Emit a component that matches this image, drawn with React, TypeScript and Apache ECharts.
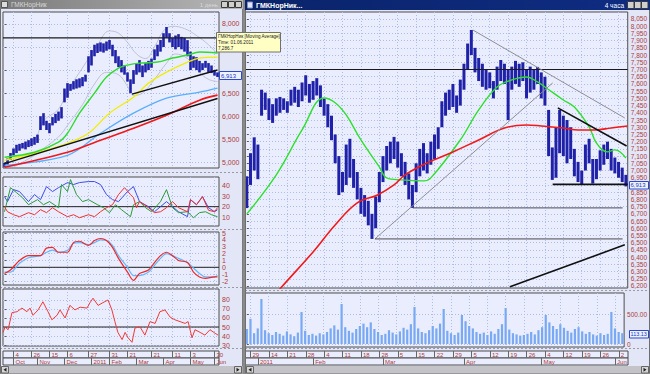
import React, { useEffect, useRef } from 'react';
import * as echarts from 'echarts';

// ================= LEFT WINDOW (daily, Sep 2010 - Jun 2011), one bar per ~2 sessions =================
const leftLo = [
  4900, 4950, 5050, 5150, 5200, 5250, 5300, 5280, 5330, 5350,
  5380, 5420, 5700, 5800, 5700, 5630, 5800, 5850, 5900, 5950,
  6300, 6400, 6550, 6580, 6600, 6620, 6650, 6750, 6950, 7100,
  7300, 7370, 7400, 7380, 7420, 7450, 7300, 7150, 7065, 6950,
  6900, 6750, 6500, 6700, 6900, 6950, 6848, 6950, 7000, 7050,
  7217, 7300, 7400, 7500, 7700, 7600, 7500, 7450, 7500, 7450,
  7400, 7300, 7000, 7050, 7000, 6950, 7000, 7050, 6950, 6935,
  6880, 6850,
];
const leftHi = [
  4990, 5080, 5200, 5300, 5380, 5400, 5420, 5450, 5480, 5520,
  5550, 5600, 6000, 6065, 5900, 5850, 5980, 6050, 6100, 6196,
  6600, 6717, 6700, 6760, 6800, 6820, 6848, 6900, 7300, 7435,
  7550, 7580, 7600, 7580, 7620, 7652, 7550, 7435, 7300, 7217,
  7100, 6950, 6800, 7000, 7150, 7217, 7100, 7150, 7200, 7250,
  7450, 7550, 7652, 7800, 7935, 7800, 7700, 7750, 7780, 7720,
  7700, 7650, 7400, 7300, 7280, 7200, 7150, 7200, 7152, 7100,
  7000, 6950,
];
const leftGreenMA: [number, number][] = [[0, 5108], [10, 5217], [18, 5435], [21, 5630], [25, 6065], [30, 6500], [34, 6848], [38, 7043], [41, 7109], [45, 7152], [51, 7174], [56, 7261], [61, 7326], [65, 7391], [71, 7370]];
const leftYellowMA: [number, number][] = [[0, 5043], [10, 5196], [21, 5413], [28, 5630], [35, 6065], [43, 6413], [48, 6717], [54, 6957], [61, 7174], [65, 7261], [71, 7283]];
const leftSkyMA: [number, number][] = [[0, 4935], [21, 5152], [32, 5630], [43, 6065], [54, 6391], [65, 6522], [71, 6609]];
const leftRedMA: [number, number][] = [[0, 4891], [21, 5217], [32, 5478], [43, 5739], [54, 6022], [65, 6348], [71, 6457]];
const leftUpperBand: [number, number][] = [[3, 5250], [10, 5500], [13, 5900], [18, 6150], [21, 6550], [25, 6950], [28, 7250], [31, 7550], [35, 7850], [38, 7800], [41, 7600], [44, 7350], [47, 7250], [50, 7500], [53, 7850], [56, 7950], [60, 7900], [64, 7750], [68, 7550], [71, 7350]];
const leftLowerBand: [number, number][] = [[3, 4900], [10, 5150], [13, 5300], [18, 5550], [21, 5800], [26, 6250], [30, 6700], [34, 6950], [38, 6900], [41, 6650], [43, 6450], [46, 6500], [50, 6800], [54, 7150], [57, 7350], [61, 7250], [65, 6950], [68, 6800], [71, 6750]];
const leftTrendLong: [number, number][] = [[0, 4971], [71, 6385]];
const leftTrendShort: [number, number][] = [[42.5, 6478], [71, 7000]];
const resistanceLevel = 7700;

const dmiBlue: [number, number][] = [[0, 29.7], [1, 24.9], [3, 36.5], [5, 34.6], [8, 24.9], [10, 31.7], [12, 26.8], [14, 39.4], [16, 34.6], [18, 38.4], [21, 43.3], [23, 41.4], [25, 43.3], [28, 44.3], [30, 44.3], [32, 41.4], [34, 31.7], [36, 26.8], [38, 24.9], [41, 34.6], [43, 39.4], [45, 24.9], [48, 20], [50, 15.1], [52, 20], [54, 24.9], [56, 20], [58, 15.1], [61, 10.3], [62, 26.8], [64, 21.9], [66, 29.7], [68, 19], [70, 15.1], [71, 17]];
const dmiGreen: [number, number][] = [[0, 15.1], [2, 38.4], [4, 33.6], [6, 28.7], [8, 21.9], [11, 26.8], [13, 21.9], [15, 24.9], [18, 19], [19, 41.4], [21, 34.6], [22, 46.2], [24, 31.7], [26, 24.9], [28, 26.8], [31, 21.9], [33, 19], [35, 14.2], [37, 21.9], [39, 17.1], [42, 10.3], [43, 21.9], [45, 24.9], [47, 19], [49, 15.1], [52, 24.9], [54, 36.5], [56, 19], [58, 14.2], [61, 15.1], [63, 9.3], [65, 14.2], [67, 15.1], [69, 12.2], [71, 10.3]];
const dmiRed: [number, number][] = [[0, 20], [1, 15.1], [3, 12.2], [5, 10.3], [8, 14.2], [10, 12.2], [12, 17.1], [14, 14.2], [16, 19], [18, 15.1], [21, 10.3], [23, 12.2], [25, 9.3], [28, 12.2], [30, 10.3], [32, 15.1], [34, 19], [36, 21.9], [38, 31.7], [40, 38.4], [42, 31.7], [43, 28.7], [44, 19], [45, 24.9], [48, 19], [50, 14.2], [52, 15.1], [54, 19], [56, 24.9], [58, 19], [61, 15.1], [62, 26.8], [64, 21.9], [66, 29.7], [68, 16.5], [70, 15.1], [71, 19]];
const dmiLevel = 20;

const macdRed: [number, number][] = [[0, -0.9], [2, -0.4], [5, 1.0], [8, 1.7], [12, 1.7], [14, 2.8], [16, 2.9], [18, 2.2], [21, 2.2], [23, 3.6], [25, 3.8], [28, 3.2], [30, 3.9], [32, 4.2], [34, 3.9], [36, 2.9], [38, 1.3], [41, -0.7], [43, -1.9], [45, -0.9], [48, -0.4], [50, 0.7], [52, 1.7], [54, 2.2], [56, 1.7], [58, 1.0], [61, 0.7], [63, -0.7], [65, -1.4], [67, -1.6], [70, -1.4], [71, -1.4]];
const macdBlue: [number, number][] = [[0, -0.7], [2, -0.7], [5, 0.6], [8, 1.4], [12, 1.7], [14, 2.2], [16, 2.5], [18, 2.2], [21, 2.5], [23, 3.5], [25, 3.6], [28, 3.3], [30, 3.6], [32, 4.0], [34, 3.9], [36, 3.2], [38, 1.7], [41, 0], [43, -1.2], [45, -1.2], [48, -0.7], [50, 0.3], [52, 1.3], [54, 2.0], [56, 1.7], [58, 1.3], [61, 0.7], [63, -0.1], [65, -0.9], [67, -1.4], [70, -1.4], [71, -1.2]];
const macdLevel = 0;

const rsiRed: [number, number][] = [[-0.5, 44], [0.2, 50], [1.2, 47], [2.5, 66], [4.2, 67], [5.8, 71], [7.5, 67], [8.5, 71], [9.5, 63], [11.2, 69], [12.8, 78], [14.5, 67], [15.8, 58], [17.5, 63], [18.5, 69], [20.2, 60], [21.8, 74], [23.5, 69], [25.2, 72], [27.5, 71], [28.5, 77], [29.5, 82], [31.2, 74], [32.8, 77], [34.5, 80], [35.8, 69], [36.8, 56], [37.8, 44], [39.2, 36], [40.2, 44], [41.2, 38], [42.5, 33], [43.5, 49], [45.2, 50], [46.8, 41], [48.5, 56], [50.2, 54], [51.8, 67], [53.5, 69], [55.2, 61], [56.8, 58], [58.5, 56], [60.2, 54], [61.2, 56], [62.5, 38], [63.5, 47], [65.2, 44], [66.8, 41], [68.5, 47], [70.2, 43], [71.2, 41]];
const rsiLevel = 50;

const leftDayTickIdx = [3, 9, 15, 21, 28, 35, 41, 49, 56, 62, 70];
const leftDayTickText = ['4', '26', '15', '6', '27', '31', '21', '21', '11', '3', '30'];
const leftMonthIdx = [3, 11, 20, 29, 35, 44, 53, 62, 70];
const leftMonthText = ['Oct', 'Nov', 'Dec', '2011', 'Feb', 'Mar', 'Apr', 'May', 'Jun'];
const leftPriceTicks = [5000, 5500, 6000, 6500, 7000, 7500, 8000];
// 7,000 and 7,500 sit under the last-price box and the tooltip in the reference
const leftPriceLabels = [5000, 5500, 6000, 6500, 8000];
const dmiTicks = [10, 20, 30, 40];
const macdTicks = [-2, -1, 0, 1, 2, 3, 4, 5];
const rsiTicks = [30, 40, 50, 60, 70, 80];

// ================= RIGHT WINDOW (4 hours, Dec 2010 - Jun 2011), one bar per session =================
const rightLo = [
  6740, 6900, 7000, 6940, 7380, 7420, 7350, 7330, 7380, 7400,
  7420, 7400, 7450, 7470, 7440, 7480, 7520, 7470, 7490, 7520,
  7440, 7380, 7300, 7210, 7050, 6830, 6850, 6900, 6950, 6880,
  6800, 6700, 6680, 6620, 6526, 6600, 6780, 6920, 7000, 7050,
  7080, 7020, 6960, 6900, 6800, 6741, 6850, 6960, 7000, 6980,
  7040, 7080, 7150, 7300, 7380, 7420, 7440, 7400, 7450, 7560,
  7700, 7800, 7680, 7620, 7580, 7560, 7570, 7500, 7560, 7620,
  7600, 7350, 7560, 7600, 7580, 7620, 7500, 7540, 7560, 7600,
  7500, 7450, 7100, 6935, 6950, 7120, 7100, 7050, 7080, 6960,
  6920, 6904, 7000, 7050, 6910, 6940, 7000, 7040, 7080, 7000,
  6980, 6950, 6920, 6890,
];
const rightHi = [
  6960, 7120, 7230, 7180, 7560, 7540, 7500, 7460, 7500, 7510,
  7500, 7480, 7560, 7580, 7560, 7610, 7660, 7600, 7620, 7640,
  7590, 7500, 7460, 7380, 7250, 7100, 6990, 7180, 7220, 7080,
  6990, 6880, 6830, 6790, 6700, 6820, 6990, 7100, 7170, 7200,
  7233, 7200, 7120, 7060, 6980, 6900, 7050, 7150, 7190, 7120,
  7200, 7250, 7300, 7480, 7540, 7560, 7600, 7520, 7630, 7740,
  7880, 7974, 7850, 7780, 7740, 7700, 7680, 7620, 7720, 7766,
  7740, 7700, 7720, 7760, 7740, 7750, 7700, 7720, 7700, 7718,
  7680, 7650, 7420, 7160, 7300, 7420, 7380, 7350, 7300, 7150,
  7060, 7000, 7180, 7220, 7080, 7080, 7140, 7180, 7200, 7150,
  7090, 7060, 7020, 6970,
];
const rightVol = [
  250, 420, 180, 260, 750, 230, 180, 150, 200, 170,
  140, 210, 160, 130, 190, 533, 220, 150, 170, 140,
  180, 160, 200, 260, 310, 240, 667, 280, 220, 190,
  250, 300, 340, 280, 360, 250, 200, 150, 170, 230,
  190, 160, 210, 270, 240, 330, 617, 260, 200, 180,
  230, 300, 260, 340, 583, 220, 180, 150, 190, 483,
  380, 300, 260, 200, 170, 190, 150, 210, 170, 250,
  330, 600, 240, 180, 160, 140, 150, 170, 200, 160,
  230, 280, 483, 360, 300, 250, 330, 270, 220, 190,
  250, 280, 210, 170, 200, 160, 140, 180, 150, 170,
  533, 260, 200, 180,
];
const rightGreenMA: [number, number][] = [[0, 6700], [8, 6970], [15, 7281], [21, 7503], [24, 7470], [27, 7385], [31, 7212], [36, 7025], [38, 6949], [42, 6935], [48, 6928], [50, 6949], [58, 7212], [63, 7420], [68, 7579], [72, 7628], [76, 7648], [79, 7614], [81, 7579], [86, 7489], [89, 7440], [93, 7302], [95, 7191], [98, 7129], [100, 7143], [103, 7087]];
const rightRedMA: [number, number][] = [[5, 6060], [9.5, 6194], [18, 6436], [24, 6623], [30, 6776], [35.5, 6831], [40, 6900], [43, 6970], [49, 7053], [56, 7129], [63, 7212], [70, 7295], [76, 7316], [80, 7309], [86, 7295], [90, 7281], [94.5, 7281], [99, 7295], [103.5, 7309]];
const rightGreyDiagonals: [number, number][][] = [
  [[61.4, 7974], [102.7, 7364]],
  [[34.8, 6526], [83.1, 7607]],
];
const rightGreyLevels: [number, number][][] = [
  [[34.8, 6526], [102.1, 6526]],
  [[45.1, 6741], [102.1, 6741]],
];
const rightBlackLines: [number, number][][] = [
  [[83.1, 6904], [103.5, 6904]],
  [[71.5, 6194], [102.7, 6485]],
  [[84.5, 7434], [103.2, 7170]],
];
const rightDayTickIdx = [1, 6, 11, 16, 21, 26, 31, 36, 41, 46, 51, 56, 61, 66, 71, 76, 81, 86, 91, 96, 101];
const rightDayTickText = ['29', '14', '21', '28', '4', '11', '18', '28', '5', '15', '22', '29', '5', '12', '19', '26', '4', '12', '19', '26', '2'];
const rightMonthIdx = [3, 18, 37, 59, 80, 100];
const rightMonthText = ['2011', 'Feb', 'Mar', 'Apr', 'May', 'Jun'];
const volTicks = [0, 500];

const lastPrice = '6,913';
const lastVolume = '113.13';
const tooltipLines = ['ГМКНорНик [Moving Average]', 'Time: 01.06.2011', '7,286.7'];

// ================= styling =================
const FONT = '"Liberation Sans", Arial, sans-serif';
const LABEL_RED = '#b03b3b';
const PANEL_BG = '#eaedfd';
const FRAME = '#4d4d4d';
const GRID_DOT = '#aebde9';
const PRICE_BLUE = '#1f22a8';

const fmtThousands = (v: number) => {
  const s = Math.round(v).toString();
  return s.length > 3 ? s.slice(0, s.length - 3) + ',' + s.slice(-3) : s;
};

function panelGrid(left: number, top: number, width: number, height: number) {
  return { left, top, width, height, show: true, backgroundColor: PANEL_BG, borderColor: FRAME, borderWidth: 1 };
}
function timeAxis(gridIndex: number, min: number, max: number, ticks: number[]) {
  return {
    type: 'value', gridIndex, min, max,
    axisLine: { show: false }, axisTick: { show: false, customValues: ticks }, axisLabel: { show: false },
    splitLine: { show: true, lineStyle: { color: GRID_DOT, type: [1, 2], width: 1 } },
  };
}
function valueAxis(gridIndex: number, min: number, max: number, ticks: number[], labels: number[], fmt: (v: number) => string, fontSize = 7) {
  return {
    type: 'value', gridIndex, min, max, position: 'right',
    axisLine: { show: false },
    axisTick: { show: true, length: 2, customValues: ticks, lineStyle: { color: '#5a5a5a' } },
    axisLabel: { show: true, customValues: labels, formatter: fmt, color: LABEL_RED, fontSize, fontFamily: FONT, margin: 3 },
    splitLine: { show: true, lineStyle: { color: GRID_DOT, type: [1, 2], width: 1 } },
  };
}
function dateAxis(gridIndex: number, min: number, max: number, idx: number[], text: string[]) {
  return {
    type: 'value', gridIndex, min, max, position: 'bottom',
    axisLine: { show: false },
    axisTick: { show: true, inside: true, length: 7, customValues: idx, lineStyle: { color: '#666' } },
    axisLabel: {
      show: true, inside: true, customValues: idx,
      formatter: (v: number) => { const k = idx.indexOf(v); return k >= 0 ? text[k] : ''; },
      align: 'left', verticalAlign: 'bottom', margin: 0.5, padding: [0, 0, 0, 2],
      color: LABEL_RED, fontSize: 6, fontFamily: FONT,
    },
    splitLine: { show: false },
  };
}
function hiddenY(gridIndex: number) {
  return { type: 'value', gridIndex, min: 0, max: 1, show: false };
}
function rangeBars(ai: number, lo: number[], hi: number[], color: string, width: number) {
  return {
    type: 'custom', xAxisIndex: ai, yAxisIndex: ai, silent: true, clip: true, z: 2,
    data: lo.map((l, i) => [i, l, hi[i]]),
    encode: { x: 0, y: [1, 2] },
    renderItem: (_p: any, api: any) => {
      const x = api.value(0);
      const a = api.coord([x, api.value(1)]);
      const b = api.coord([x, api.value(2)]);
      return { type: 'line', shape: { x1: a[0], y1: a[1], x2: b[0], y2: b[1] }, style: { stroke: color, lineWidth: width } };
    },
  };
}
function lineS(ai: number, data: [number, number][], color: string, width: number, smooth: any = 0.35, z = 3) {
  return {
    type: 'line', xAxisIndex: ai, yAxisIndex: ai, data, symbol: 'none', showSymbol: false, smooth,
    lineStyle: { color, width }, z, silent: true, clip: true, emphasis: { disabled: true },
  };
}

const LX = { min: -0.5, max: 71.5 };
const RX = { min: -0.5, max: 103.5 };

const rightPriceTicks: number[] = [];
for (let v = 6200; v <= 8050; v += 50) rightPriceTicks.push(v);

function buildOption() {
  const grid = [
    panelGrid(3, 12, 216, 156),   // 0 left price
    panelGrid(3, 177, 216, 49),   // 1 DMI
    panelGrid(3, 232, 216, 53),   // 2 MACD
    panelGrid(3, 289, 216, 57),   // 3 RSI
    panelGrid(3, 351, 216, 7),    // 4 left days
    panelGrid(3, 358, 216, 7),    // 5 left months
    panelGrid(245, 12, 383, 276), // 6 right price
    panelGrid(245, 293, 383, 54), // 7 right volume
    panelGrid(245, 351, 383, 7),  // 8 right days
    panelGrid(245, 358, 383, 7),  // 9 right months
  ];
  const xAxis = [
    timeAxis(0, LX.min, LX.max, leftDayTickIdx),
    timeAxis(1, LX.min, LX.max, leftDayTickIdx),
    timeAxis(2, LX.min, LX.max, leftDayTickIdx),
    timeAxis(3, LX.min, LX.max, leftDayTickIdx),
    dateAxis(4, LX.min, LX.max, leftDayTickIdx, leftDayTickText),
    dateAxis(5, LX.min, LX.max, leftMonthIdx, leftMonthText),
    timeAxis(6, RX.min, RX.max, rightDayTickIdx),
    timeAxis(7, RX.min, RX.max, rightDayTickIdx),
    dateAxis(8, RX.min, RX.max, rightDayTickIdx, rightDayTickText),
    dateAxis(9, RX.min, RX.max, rightMonthIdx, rightMonthText),
  ];
  const yAxis = [
    valueAxis(0, 4876, 8260, leftPriceTicks, leftPriceLabels, fmtThousands),
    valueAxis(1, 1.3, 48.7, dmiTicks, dmiTicks, (v) => String(v)),
    valueAxis(2, -2.58, 5.15, macdTicks, macdTicks, (v) => String(v)),
    valueAxis(3, 28.9, 92.2, rsiTicks, rsiTicks, (v) => String(v)),
    hiddenY(4),
    hiddenY(5),
    valueAxis(6, 6186, 8098.5, rightPriceTicks, rightPriceTicks, fmtThousands, 6.5),
    valueAxis(7, -50, 850, volTicks, volTicks, (v) => (v === 0 ? '0' : v.toFixed(2)), 6.5),
    hiddenY(8),
    hiddenY(9),
  ];

  const series: any[] = [
    // left price window
    lineS(0, leftUpperBand, '#b4b8cc', 0.8, 0.4, 1),
    lineS(0, leftLowerBand, '#b4b8cc', 0.8, 0.4, 1),
    rangeBars(0, leftLo, leftHi, PRICE_BLUE, 2.6),
    lineS(0, leftSkyMA, '#5aaeff', 1.3),
    lineS(0, leftRedMA, '#f01818', 1.6),
    lineS(0, leftYellowMA, '#f2ee00', 1.3),
    lineS(0, leftGreenMA, '#2edc2e', 1.4),
    lineS(0, leftTrendLong, '#111111', 1.5, false, 4),
    lineS(0, leftTrendShort, '#111111', 1.5, false, 4),
    lineS(0, [[LX.min, resistanceLevel], [LX.max, resistanceLevel]], '#1a1a1a', 1.2, false, 4),
    // DMI
    lineS(1, [[LX.min, dmiLevel], [LX.max, dmiLevel]], '#222222', 1, false, 2),
    lineS(1, dmiBlue, '#3c4ee8', 1, false),
    lineS(1, dmiGreen, '#2a9a3a', 1, false),
    lineS(1, dmiRed, '#f03030', 1, false),
    // MACD
    lineS(2, [[LX.min, macdLevel], [LX.max, macdLevel]], '#222222', 1, false, 2),
    lineS(2, macdBlue, '#62b8ff', 1.2, 0.3),
    lineS(2, macdRed, '#f02828', 1.2, 0.3),
    // RSI
    lineS(3, [[LX.min, rsiLevel], [LX.max, rsiLevel]], '#222222', 1, false, 2),
    lineS(3, rsiRed, '#f03a3a', 1, false),
    // right price window
    lineS(6, [[RX.min, resistanceLevel], [RX.max, resistanceLevel]], '#1a1a1a', 1.2, false, 4),
    rangeBars(6, rightLo, rightHi, PRICE_BLUE, 3),
    lineS(6, rightGreenMA, '#2ee02e', 1.4, 0.4),
    lineS(6, rightRedMA, '#f01a1a', 1.6, 0.4),
    ...rightGreyDiagonals.map((seg) => lineS(6, seg, '#8e8e96', 1, false, 4)),
    ...rightGreyLevels.map((seg) => lineS(6, seg, '#4a4a52', 1, false, 4)),
    ...rightBlackLines.map((seg) => lineS(6, seg, '#101010', 1.6, false, 4)),
    // right volume
    rangeBars(7, rightVol.map(() => 0), rightVol, '#79a9f2', 2.2),
  ];

  const txt = (x: number, y: number, text: string, fill: string, size: number, opts: any = {}) => ({
    type: 'text', x, y, z: 110, silent: true,
    style: { text, fill, fontSize: size, fontFamily: FONT, verticalAlign: 'middle', align: opts.align || 'left', fontWeight: opts.bold ? 'bold' : 'normal' },
  });
  const rect = (x: number, y: number, w: number, h: number, fill: any, stroke?: string, z = 100) => ({
    type: 'rect', z, silent: true, shape: { x, y, width: w, height: h },
    style: { fill, stroke: stroke || null, lineWidth: 1 },
  });
  const hline = (x1: number, x2: number, y: number, color: string, dash: any = null) => ({
    type: 'line', z: 90, silent: true, shape: { x1, y1: y, x2, y2: y },
    style: { stroke: color, lineWidth: 1, lineDash: dash },
  });
  const button = (x: number, y: number, w: number, h: number) => rect(x, y, w, h, '#d2d0cc', '#3a3a3a', 105);

  const elements: any[] = [
    // pane separators
    hline(0, 243, 172.5, '#9a9aa6', [2, 2]),
    hline(0, 243, 229.5, '#9a9aa6', [2, 2]),
    hline(0, 243, 287.5, '#9a9aa6', [2, 2]),
    hline(0, 243, 348.5, '#9a9aa6', [2, 2]),
    hline(245, 650, 290.5, '#9a9aa6', [2, 2]),
    hline(245, 650, 348.5, '#9a9aa6', [2, 2]),
    // window borders
    rect(0.5, 0.5, 242, 373, 'none', '#6e6e6e', 95),
    rect(245.5, 0.5, 404, 373, 'none', '#6e6e6e', 95),
    rect(242.5, 0, 2.5, 374, '#8a8a8a', undefined, 96),
    // left title bar (inactive)
    rect(0, 0, 243, 9, { type: 'linear', x: 0, y: 0, x2: 1, y2: 0, colorStops: [{ offset: 0, color: '#7a7a7a' }, { offset: 1, color: '#b8b8b8' }] }),
    rect(1.5, 1.5, 6, 6, '#dcdcdc', '#555555', 105),
    txt(11, 4.8, 'ГМКНорНик', '#d8d8d8', 6.5),
    txt(218, 4.8, '1 день', '#d8d8d8', 6, { align: 'right' }),
    button(221.5, 1.5, 6, 6), button(228.5, 1.5, 6, 6), button(235.5, 1.5, 6, 6),
    // right title bar (active)
    rect(245, 0, 405, 10, { type: 'linear', x: 0, y: 0, x2: 1, y2: 0, colorStops: [{ offset: 0, color: '#0a246a' }, { offset: 1, color: '#0e2c82' }] }),
    rect(247.5, 2, 5, 6, '#e0e4ff', '#8090c0', 105),
    txt(256, 5.2, 'ГМКНорНик...', '#ffffff', 7, { bold: true }),
    txt(624, 5.2, '4 часа', '#ffffff', 6.5, { align: 'right' }),
    button(627.5, 1.5, 6.5, 7), button(634.5, 1.5, 6.5, 7), button(641.5, 1.5, 6.5, 7),
    // scrollbars
    rect(1, 366, 241.5, 7.5, '#c4c4c8'),
    rect(1.5, 366.5, 7, 6.5, '#d6d6d6', '#666666', 105),
    { type: 'polygon', z: 106, silent: true, shape: { points: [[3.5, 369.75], [6.5, 367.8], [6.5, 371.7]] }, style: { fill: '#222' } },
    rect(234.5, 366.5, 7, 6.5, '#d6d6d6', '#666666', 105),
    { type: 'polygon', z: 106, silent: true, shape: { points: [[239.5, 369.75], [236.5, 367.8], [236.5, 371.7]] }, style: { fill: '#222' } },
    rect(246, 366, 403, 7.5, '#c4c4c8'),
    rect(246.5, 366.5, 7, 6.5, '#d6d6d6', '#666666', 105),
    { type: 'polygon', z: 106, silent: true, shape: { points: [[248.5, 369.75], [251.5, 367.8], [251.5, 371.7]] }, style: { fill: '#222' } },
    rect(641.5, 366.5, 7, 6.5, '#d6d6d6', '#666666', 105),
    { type: 'polygon', z: 106, silent: true, shape: { points: [[646.5, 369.75], [643.5, 367.8], [643.5, 371.7]] }, style: { fill: '#222' } },
    // last price / volume boxes
    rect(219.5, 71.5, 22, 8, '#eef2ff', '#2a48d0', 110),
    txt(221, 75.6, lastPrice, '#2038c0', 6),
    rect(629.5, 181.5, 19, 7.5, '#eef2ff', '#2a48d0', 110),
    txt(630.5, 185.4, lastPrice, '#2038c0', 6),
    rect(629.5, 330.5, 19, 7.5, '#eef2ff', '#2a48d0', 110),
    txt(630.5, 334.4, lastVolume, '#2038c0', 5.5),
    // floating tooltip
    rect(216.5, 32.5, 64, 19.5, '#ffffc4', '#707070', 120),
    { ...txt(218, 36.4, tooltipLines[0], '#202020', 4.6), z: 121 },
    { ...txt(218, 42.2, tooltipLines[1], '#202020', 4.6), z: 121 },
    { ...txt(218, 48, tooltipLines[2], '#202020', 4.6), z: 121 },
  ];

  return {
    animation: false,
    backgroundColor: '#e2e6f7',
    grid,
    xAxis,
    yAxis,
    series,
    graphic: { elements },
  };
}

export default function App() {
  const ref = useRef<HTMLDivElement>(null);
  useEffect(() => {
    if (!ref.current) return;
    const chart = echarts.init(ref.current, null, { renderer: 'svg' });
    chart.setOption(buildOption() as any);
    return () => chart.dispose();
  }, []);
  return (
    <div
      ref={ref}
      style={{ position: 'absolute', left: 0, top: 0, width: 650, height: 374 }}
    />
  );
}
